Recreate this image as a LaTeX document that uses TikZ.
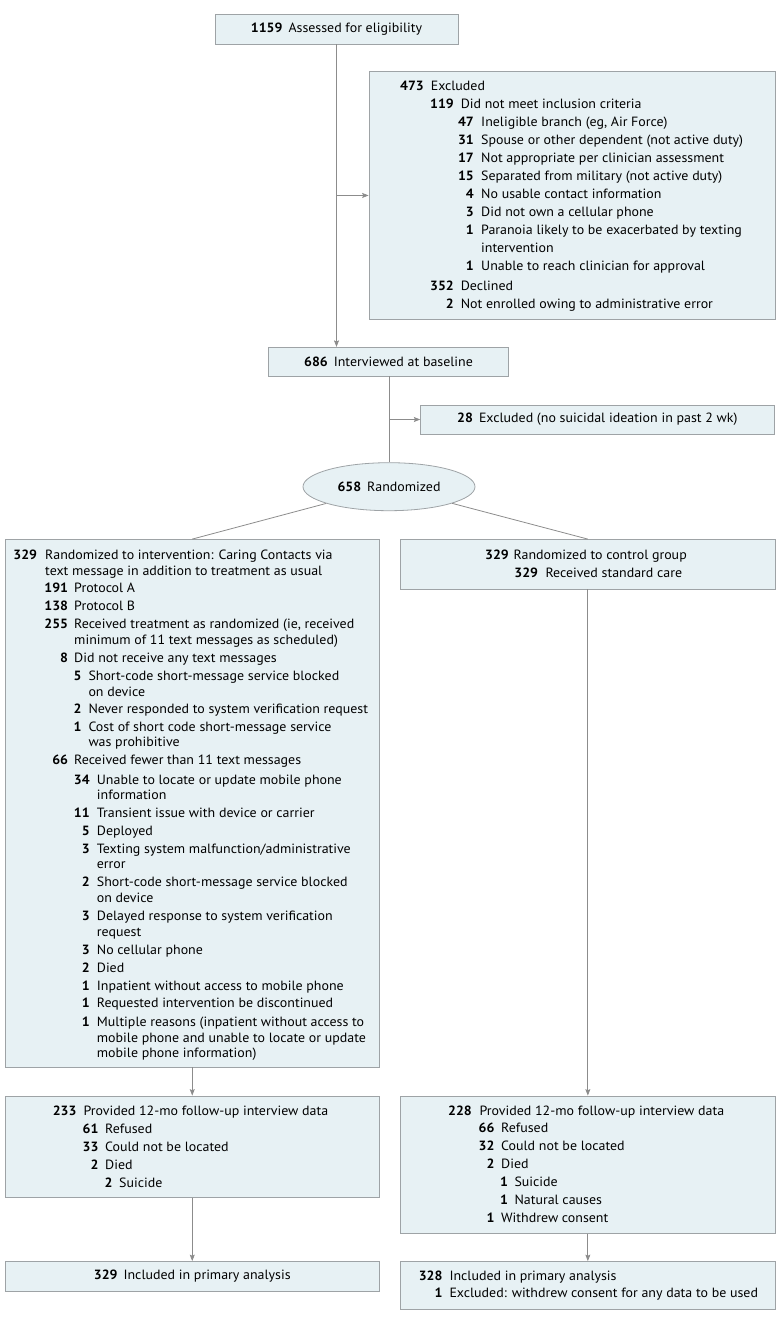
\documentclass[tikz,border=0pt]{standalone}
\usepackage{fontspec}
\setmainfont{PT Sans}[FakeStretch=1.04]
\usetikzlibrary{shapes.geometric,arrows.meta,calc}
\definecolor{boxfill}{HTML}{E7F1F4}
\definecolor{boxline}{HTML}{9EA3A6}
\definecolor{conn}{HTML}{8C8C8C}
\newcommand{\fs}{\fontsize{13.4pt}{15pt}\selectfont}
\newcounter{rowc}
% numR, textX, y(center), number, text
\newcommand{\ritem}[5]{%
  \stepcounter{rowc}%
  \node[numlab] (n\arabic{rowc}) at (#1,#3+4.3) {#4};
  \node[txtlab] (t\arabic{rowc}) at (#2,#3+4.3) {#5};}
% textX, y(center), text
\newcommand{\rcont}[3]{%
  \stepcounter{rowc}%
  \node[txtlab] (t\arabic{rowc}) at (#1,#2+4.3) {#3};}
\tikzset{
  boxnode/.style={draw=boxline, fill=boxfill, line width=0.8pt, inner sep=0pt, font=\fs, align=center},
  numlab/.style={anchor=base east, inner sep=0pt, font=\fs\bfseries},
  txtlab/.style={anchor=base west, inner sep=0pt, font=\fs},
  conline/.style={draw=conn, line width=0.8pt},
  arr/.style={conline, -{Stealth[length=6.5pt,width=5pt,inset=1.2pt]}, fill=conn},
}
\begin{document}
\begin{tikzpicture}[x=1pt,y=-1pt]
\useasboundingbox (0,0) rectangle (780,1322);

% ---- boxes ----
\node[boxnode, minimum width=243pt, minimum height=29.7pt] (b1) at (336.5,29.15) {\textbf{1159}\hspace{6pt}Assessed for eligibility};
\node[boxnode, minimum width=406pt, minimum height=247.7pt] (excl) at (572,195.45) {};
\node[boxnode, minimum width=240pt, minimum height=28.7pt] (b686) at (388.5,361.65) {\textbf{686}\hspace{6pt}Interviewed at baseline};
\node[boxnode, minimum width=353.3pt, minimum height=29pt] (ex28) at (597.35,419.5) {\textbf{28}\hspace{6pt}Excluded (no suicidal ideation in past 2 wk)};
\node[boxnode, ellipse, minimum width=172pt, minimum height=48pt] (rand) at (389,486.7) {\textbf{658}\hspace{6pt}Randomized};
\node[boxnode, minimum width=374.5pt, minimum height=527.5pt] (left) at (192.25,803.25) {};
\node[boxnode, minimum width=374.3pt, minimum height=49.5pt] (ctrl) at (587.85,564.25) {};
\node[boxnode, minimum width=374.5pt, minimum height=101.3pt] (fl) at (192.25,1146.65) {};
\node[boxnode, minimum width=374.3pt, minimum height=137.3pt] (fr) at (587.85,1164.65) {};
\node[boxnode, minimum width=374.5pt, minimum height=29.5pt] (al) at (192.25,1276.25) {\textbf{329}\hspace{6pt}Included in primary analysis};
\node[boxnode, minimum width=374.3pt, minimum height=47.8pt] (ar) at (587.85,1285.4) {};

% ---- connectors ----
\draw[arr] (b1.south) -- (b1.south |- b686.north);
\coordinate (j1) at (b1.south |- excl.west);
\draw[arr] (j1) -- (excl.west);
\draw[conline] (b686.south -| rand.north) -- (rand.north);
\coordinate (j2) at (rand.north |- ex28.west);
\draw[arr] (j2) -- (ex28.west);
\draw[conline] (rand) -- (left.north);
\draw[conline] (rand) -- (ctrl.north);
\draw[arr] (left.south) -- (fl.north);
\draw[arr] (ctrl.south) -- (fr.north);
\draw[arr] (fl.south) -- (al.north);
\draw[arr] (fr.south) -- (ar.north);

% ---- excluded box text ----
\ritem{424}{430.6}{86}{473}{Excluded}
\ritem{454}{460.6}{104.3}{119}{Did not meet inclusion criteria}
\ritem{474}{481}{122.3}{47}{Ineligible branch (eg, Air Force)}
\ritem{474}{481}{140}{31}{Spouse or other dependent (not active duty)}
\ritem{474}{481}{158}{17}{Not appropriate per clinician assessment}
\ritem{474}{481}{175.7}{15}{Separated from military (not active duty)}
\ritem{474}{481}{193.7}{4}{No usable contact information}
\ritem{474}{481}{211.7}{3}{Did not own a cellular phone}
\ritem{474}{481}{230}{1}{Paranoia likely to be exacerbated by texting}
\rcont{481}{247.7}{intervention}
\ritem{474}{481}{265.7}{1}{Unable to reach clinician for approval}
\ritem{454}{460.6}{286}{352}{Declined}
\ritem{454}{460.6}{304}{2}{Not enrolled owing to administrative error}

% ---- intervention box text ----
\ritem{37.3}{45}{555}{329}{Randomized to intervention: Caring Contacts via}
\rcont{45}{570.7}{text message in addition to treatment as usual}
\ritem{68.3}{74}{588.3}{191}{Protocol A}
\ritem{68.3}{74}{606}{138}{Protocol B}
\ritem{68.3}{74}{624.3}{255}{Received treatment as randomized (ie, received}
\rcont{74}{640}{minimum of 11 text messages as scheduled)}
\ritem{68.3}{74}{657.7}{8}{Did not receive any text messages}
\ritem{81.7}{88.3}{675.7}{5}{Short-code short-message service blocked}
\rcont{88.3}{691.7}{on device}
\ritem{81.7}{88.3}{709.3}{2}{Never responded to system verification request}
\ritem{81.7}{88.3}{727.3}{1}{Cost of short code short-message service}
\rcont{88.3}{742.3}{was prohibitive}
\ritem{68.3}{74}{760}{66}{Received fewer than 11 text messages}
\ritem{90}{96.7}{780}{34}{Unable to locate or update mobile phone}
\rcont{96.7}{795}{information}
\ritem{90}{96.7}{812.7}{11}{Transient issue with device or carrier}
\ritem{90}{96.7}{830.7}{5}{Deployed}
\ritem{90}{96.7}{849}{3}{Texting system malfunction/administrative}
\rcont{96.7}{864.3}{error}
\ritem{90}{96.7}{882.3}{2}{Short-code short-message service blocked}
\rcont{96.7}{897.7}{on device}
\ritem{90}{96.7}{916}{3}{Delayed response to system verification}
\rcont{96.7}{932.3}{request}
\ritem{90}{96.7}{950}{3}{No cellular phone}
\ritem{90}{96.7}{967.7}{2}{Died}
\ritem{90}{96.7}{986}{1}{Inpatient without access to mobile phone}
\ritem{90}{96.7}{1003.3}{1}{Requested intervention be discontinued}
\ritem{90}{96.7}{1021.7}{1}{Multiple reasons (inpatient without access to}
\rcont{96.7}{1038.3}{mobile phone and unable to locate or update}
\rcont{96.7}{1053.3}{mobile phone information)}

% ---- control box text ----
\ritem{509}{513.3}{555}{329}{Randomized to control group}
\ritem{538.3}{545.3}{573.3}{329}{Received standard care}

% ---- follow-up left ----
\ritem{76.7}{83.3}{1111}{233}{Provided 12-mo follow-up interview data}
\ritem{98.7}{105}{1129}{61}{Refused}
\ritem{98.7}{105}{1146.7}{33}{Could not be located}
\ritem{98.7}{105}{1165}{2}{Died}
\ritem{112.7}{119}{1182.7}{2}{Suicide}

% ---- follow-up right ----
\ritem{472}{479.3}{1110.7}{228}{Provided 12-mo follow-up interview data}
\ritem{494.7}{501}{1128.3}{66}{Refused}
\ritem{494.7}{501}{1146}{32}{Could not be located}
\ritem{494.7}{501}{1164}{2}{Died}
\ritem{508.3}{514.3}{1181.7}{1}{Suicide}
\ritem{508.3}{514.3}{1200}{1}{Natural causes}
\ritem{494.7}{501}{1217.7}{1}{Withdrew consent}

% ---- analysis right ----
\ritem{442.7}{449.3}{1276}{328}{Included in primary analysis}
\ritem{442.7}{449.3}{1293.3}{1}{Excluded: withdrew consent for any data to be used}
\end{tikzpicture}
\end{document}
